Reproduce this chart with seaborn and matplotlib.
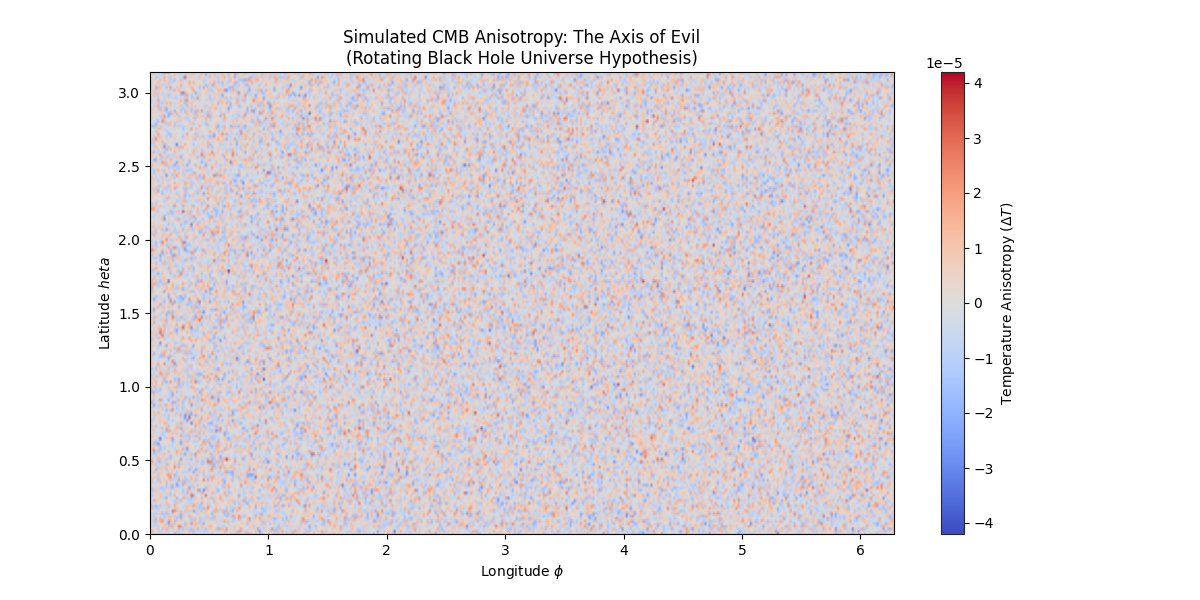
import numpy as np
import matplotlib
matplotlib.use("Agg")
import matplotlib.pyplot as plt
import seaborn as sns

# grid of the sky map
n_theta = 180
n_phi = 360
theta = np.linspace(0, np.pi, n_theta)
phi = np.linspace(0, 2 * np.pi, n_phi)

# simulated anisotropy field (the cells cannot be read one by one from the picture)
rng = np.random.default_rng(0)
delta_t = rng.normal(0, 1.0e-5, (n_theta, n_phi))
limit = 4.2e-5

title = "Simulated CMB Anisotropy: The Axis of Evil\n(Rotating Black Hole Universe Hypothesis)"

sns.set_style("white")
plt.rcParams["font.family"] = ["DejaVu Sans"]
for k in ["text.color", "axes.labelcolor", "xtick.color", "ytick.color"]:
    plt.rcParams[k] = "black"
cmap = sns.color_palette("coolwarm", as_cmap=True)

fig = plt.figure(figsize=(12, 6), dpi=100)
ax = fig.add_axes([0.125, 0.11, 0.62, 0.77])
cax = fig.add_axes([0.784, 0.11, 0.019, 0.77])

mesh = ax.pcolormesh(phi, theta, delta_t, cmap=cmap, vmin=-limit, vmax=limit, shading="gouraud")
ax.set_xlim(0, 2 * np.pi)
ax.set_ylim(0, np.pi)
ax.set_title(title)
ax.set_xlabel(r"Longitude $\phi$")
ax.set_ylabel("Latitude $heta$")
ax.tick_params(left=True, bottom=True)
for s in ax.spines.values():
    s.set_color("black")

cb = fig.colorbar(mesh, cax=cax)
cb.set_label(r"Temperature Anisotropy ($\Delta T$)")

fig.savefig("out.png", dpi=100)
